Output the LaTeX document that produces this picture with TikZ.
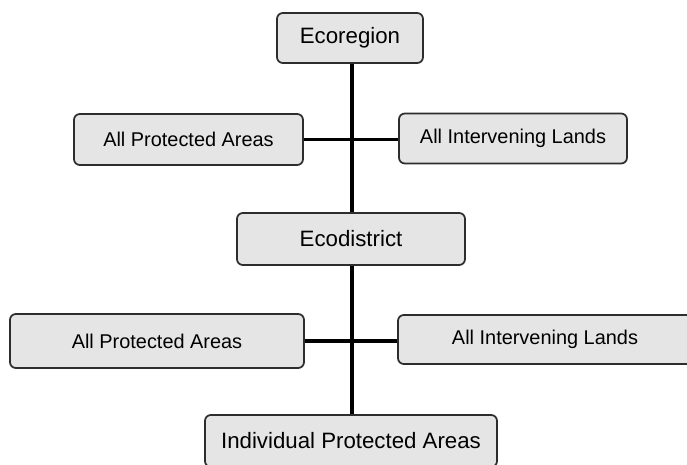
\documentclass[tikz,border=0pt]{standalone}
\usepackage{fontspec}
\setmainfont{Liberation Sans}
\usetikzlibrary{positioning}
\definecolor{PanelGray}{RGB}{229,229,229}
\definecolor{PanelEdge}{RGB}{45,45,45}

\begin{document}
\begin{tikzpicture}[
  x=0.03cm, y=-0.03cm,
  level/.style={draw=PanelEdge, line width=1.5pt, rounded corners=5pt, fill=PanelGray,
    inner sep=0pt, align=center, font=\fontsize{19}{22}\selectfont},
  land/.style={level, font=\fontsize{17}{20}\selectfont},
  link/.style={line width=3.4pt, draw=black}
]
\useasboundingbox (0,0) rectangle (687,464);
\clip (0,0) rectangle (687,464);
\node[level, minimum width=4.38cm, minimum height=1.5cm] (ecoregion) at (350,38) {Ecoregion};
\node[land, minimum width=6.87cm, minimum height=1.53cm] (protTop) at (188.5,139.5) {All Protected Areas};
\node[land, minimum width=6.84cm, minimum height=1.5cm] (landTop) at (513,138.5) {All Intervening Lands};
\node[level, minimum width=6.84cm, minimum height=1.56cm] (ecodistrict) at (351,239) {Ecodistrict};
\node[land, minimum width=8.82cm, minimum height=1.62cm] (protLow) at (157,341) {All Protected Areas};
\node[land, minimum width=8.82cm, minimum height=1.47cm] (landLow) at (545,339.5) {All Intervening Lands};
\node[level, minimum width=8.76cm, minimum height=1.56cm] (individual) at (351,441) {Individual Protected Areas};
\draw[link] (ecoregion.south -| 352,0) -- (ecodistrict.north -| 352,0);
\draw[link] (ecodistrict.south -| 352,0) -- (individual.north -| 352,0);
\draw[link] (protTop.east) -- (landTop.west |- protTop.east);
\draw[link] (protLow.east) -- (landLow.west |- protLow.east);
\end{tikzpicture}
\end{document}
